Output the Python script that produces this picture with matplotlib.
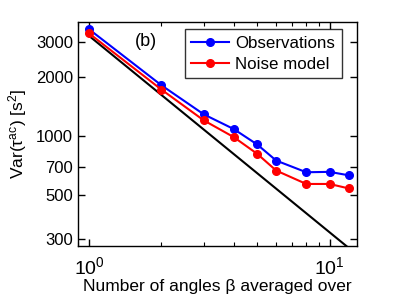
import matplotlib
matplotlib.use("Agg")
import matplotlib.pyplot as plt
from matplotlib.ticker import FixedLocator, FixedFormatter, LogLocator, NullFormatter
import numpy as np

plt.rcParams['font.family'] = ['Liberation Sans', 'DejaVu Sans']
plt.rcParams['mathtext.fontset'] = 'custom'
plt.rcParams['mathtext.rm'] = 'Liberation Sans'
plt.rcParams['mathtext.it'] = 'Liberation Sans:italic'
plt.rcParams['mathtext.bf'] = 'Liberation Sans:bold'

n_angles = [1, 2, 3, 4, 5, 6, 8, 10, 12]
observations = [3500, 1815, 1291, 1086, 907, 751, 655, 658, 632]
noise_model = [3335, 1726, 1203, 988, 813, 668, 571, 571, 542]
ref_x = [1, 13]
ref_amp = 3240
yticks = [300, 500, 700, 1000, 2000, 3000]
ytick_labels = ['300', '500', '700', '1000', '2000', '3000']

fig = plt.figure(figsize=(3.95, 2.97), dpi=100)
ax = fig.add_axes([78/395, 1-246/297, (357-78)/395, (246-22)/297])

rx = np.array(ref_x, dtype=float)
ax.plot(rx, ref_amp / rx, color='black', lw=1.5)
ax.plot(n_angles, observations, '-o', color='#0000ff', lw=1.5, ms=5.5, label='Observations')
ax.plot(n_angles, noise_model, '-o', color='#ff0000', lw=1.5, ms=5.5, label='Noise model')

ax.set_xscale('log')
ax.set_yscale('log')
ax.set_xlim(0.9, 13)
ax.set_ylim(276, 3810)

ax.yaxis.set_major_locator(FixedLocator(yticks))
ax.yaxis.set_major_formatter(FixedFormatter(ytick_labels))
ax.yaxis.set_minor_locator(FixedLocator([]))
ax.xaxis.set_major_locator(LogLocator(base=10))
ax.xaxis.set_minor_locator(LogLocator(base=10, subs=np.arange(2, 10)))
ax.xaxis.set_minor_formatter(NullFormatter())

ax.tick_params(which='both', direction='in', top=True, right=True, labelsize=12)
ax.tick_params(axis='x', which='major', labelsize=14, pad=7)
ax.tick_params(which='major', length=5, width=1)
ax.tick_params(which='minor', length=3, width=0.8)
for s in ax.spines.values():
    s.set_linewidth(1.0)

ax.set_xlabel('Number of angles β averaged over', fontsize=12.5, labelpad=1)
ax.set_ylabel(r'Var(τ$^{\mathrm{ac}}$) [s$^{2}$]', fontsize=12.5, labelpad=5)

ax.text(0.244, 0.915, '(b)', transform=ax.transAxes, fontsize=13, ha='center', va='center')

leg = ax.legend(loc='upper right', bbox_to_anchor=(1 - 15/279, 1 - 7/224), fancybox=False,
                edgecolor='black', fontsize=12.2, handlelength=2.2, borderpad=0.4,
                labelspacing=0.35, handletextpad=0.4, borderaxespad=0)
leg.get_frame().set_linewidth(1.0)

fig.savefig('out.png', dpi=100)
